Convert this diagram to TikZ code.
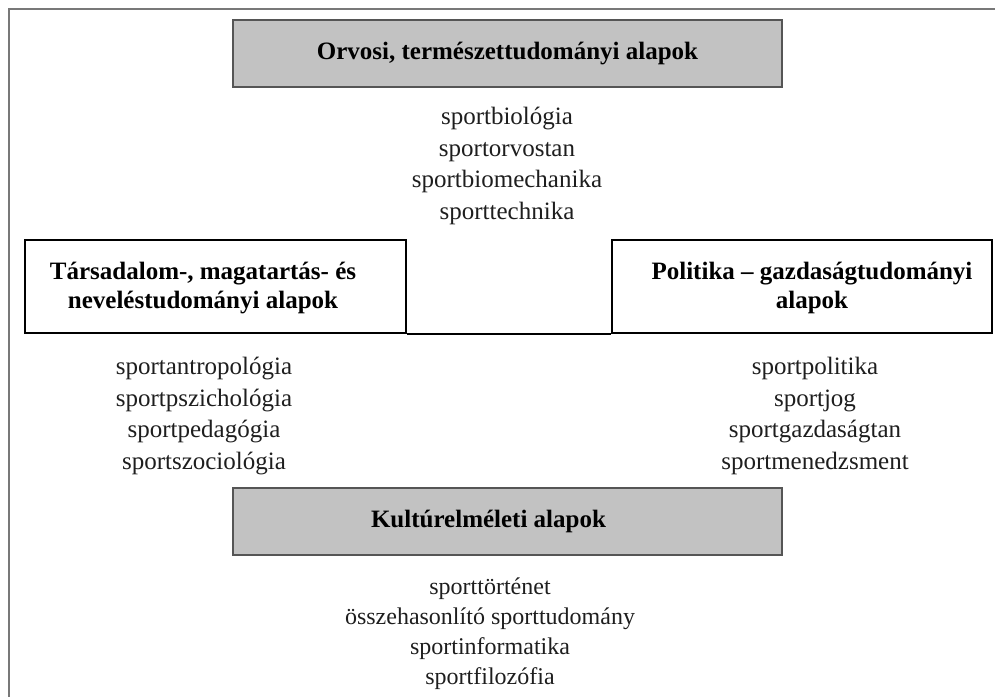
\documentclass[tikz,border=0pt]{standalone}
\usepackage{fontspec}
\setmainfont{Liberation Serif}
\definecolor{boxgray}{RGB}{194,194,194}
\definecolor{edgegray}{RGB}{85,85,85}
\definecolor{framegray}{RGB}{120,120,120}
\definecolor{listink}{RGB}{30,30,30}
\begin{document}
\begin{tikzpicture}[x=1pt,y=-1pt,
  greybox/.style={draw=edgegray, fill=boxgray, line width=2pt, rectangle,
    minimum width=549pt, minimum height=67pt, inner sep=0pt},
  whitebox/.style={draw=black, fill=white, line width=2pt, rectangle,
    minimum width=381pt, minimum height=93pt, inner sep=0pt},
  title/.style={font=\fontsize{25}{29}\selectfont\bfseries, align=center, inner sep=0pt},
  itemlist/.style={font=\fontsize{25}{31.5}\selectfont, text=listink, align=center, inner sep=0pt}]
  \useasboundingbox (0,0) rectangle (995,697);
  % outer frame (top and left edges only visible)
  \draw[framegray, line width=2pt] (995,9) -- (9,9) -- (9,697);

  % category boxes
  \node[greybox]  (med)  at (507.5,53.5) {};
  \node[whitebox] (soc)  at (215,286.5) {};
  \node[whitebox, minimum width=380pt] (pol) at (802,286.5) {};
  \node[greybox]  (cult) at (507.5,521.5) {};

  % link between the two side boxes
  \draw[black, line width=2pt] (soc.south east) -- (pol.south west);

  % box titles
  \node[title] (medT)  at (med.center) {Orvosi, természettudományi alapok};
  \node[title] (socT)  at ([xshift=-12pt,yshift=-2pt]soc.center) {Társadalom-, magatartás- és\\neveléstudományi alapok};
  \node[title] (polT)  at ([xshift=10pt,yshift=-1pt]pol.center) {Politika -- gazdaságtudományi\\alapok};
  \node[title] (cultT) at ([xshift=-19pt]cult.center) {Kultúrelméleti alapok};

  % disciplines under each box
  \node[itemlist] (medL) at (507,166) {sportbiológia\\sportorvostan\\sportbiomechanika\\sporttechnika};
  \node[itemlist] (socL) at (204,416) {sportantropológia\\sportpszichológia\\sportpedagógia\\sportszociológia};
  \node[itemlist] (polL) at (815,416) {sportpolitika\\sportjog\\sportgazdaságtan\\sportmenedzsment};
  \node[itemlist, font=\fontsize{24}{30}\selectfont] (cultL) at (490,634) {sporttörténet\\összehasonlító sporttudomány\\sportinformatika\\sportfilozófia};
\end{tikzpicture}
\end{document}
